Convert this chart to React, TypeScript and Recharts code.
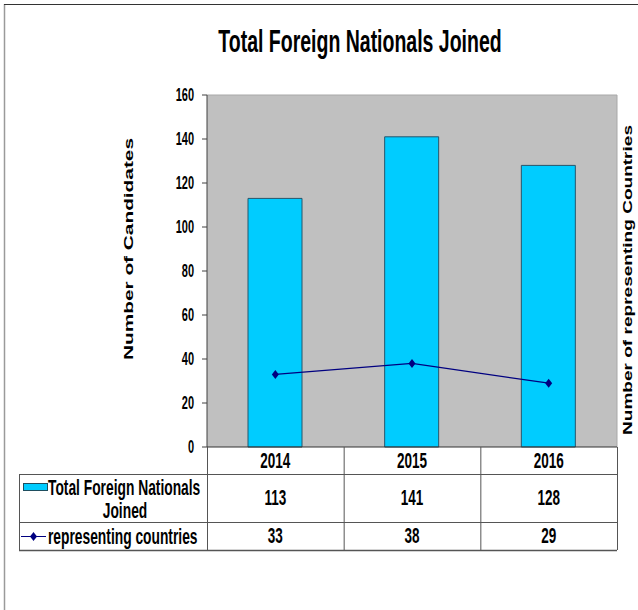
import { ComposedChart, Bar, Line, XAxis, YAxis, CartesianGrid, ReferenceLine } from 'recharts'

// chart values
const years = ['2014', '2015', '2016']
const nationalsJoined = [113, 141, 128]
const representingCountries = [33, 38, 29]
const yTicks = [0, 20, 40, 60, 80, 100, 120, 140, 160]

const seriesNames = ['Total Foreign Nationals', 'Joined']
const lineName = 'representing countries'

const data = years.map((year, i) => ({
  year,
  joined: nationalsJoined[i],
  countries: representingCountries[i],
}))

const W = 638
const H = 610
const PLOT_L = 207
const PLOT_R = 617
const PLOT_T = 95
const PLOT_B = 447
const TABLE_L = 19
const ROW_Y = [447, 474, 522, 550]
const STRETCH = 1.6

const ARIAL = "'Liberation Sans', Arial, sans-serif"
const CYAN = '#00CCFF'
const NAVY = '#000080'
const GRID = '#555555'

function Stretched({ x, y, anchor = 'middle', size, children }: any) {
  return (
    <text
      x={0}
      y={0}
      transform={`translate(${x},${y}) scale(1,${STRETCH})`}
      textAnchor={anchor}
      dominantBaseline="central"
      fontFamily={ARIAL}
      fontWeight="bold"
      fontSize={size}
      fill="#000"
    >
      {children}
    </text>
  )
}

function YTick({ x, y, payload }: any) {
  return <Stretched x={x} y={y} anchor="end" size={11}>{payload.value}</Stretched>
}

function Diamond({ cx, cy }: any) {
  if (cx == null || cy == null) return null
  return (
    <polygon
      points={`${cx},${cy - 4.5} ${cx + 3.5},${cy} ${cx},${cy + 4.5} ${cx - 3.5},${cy}`}
      fill={NAVY}
    />
  )
}

function AxisTitle({ text, cx, cy, size, len }: any) {
  return (
    <text
      x={cx}
      y={cy}
      transform={`rotate(-90 ${cx} ${cy})`}
      textAnchor="middle"
      dominantBaseline="central"
      textLength={len}
      lengthAdjust="spacingAndGlyphs"
      fontFamily={ARIAL}
      fontWeight="bold"
      fontSize={size}
      fill="#000"
    >
      {text}
    </text>
  )
}

function Overlay() {
  const colW = (PLOT_R - PLOT_L) / years.length
  const colX = years.map((_, i) => PLOT_L + i * colW)
  const midRow = (r: number) => (ROW_Y[r] + ROW_Y[r + 1]) / 2
  return (
    <svg width={W} height={H} style={{ position: 'absolute', left: 0, top: 0, pointerEvents: 'none' }}>
      {/* outer chart frame */}
      <line x1={4.5} x2={4.5} y1={4} y2={H} stroke="#9a9a9a" strokeWidth={1.5} />
      <line x1={4} x2={W} y1={4.5} y2={4.5} stroke="#333" />

      {/* title */}
      <Stretched x={360} y={41} size={19.5}>Total Foreign Nationals Joined</Stretched>

      {/* right axis title */}
      <AxisTitle text="Number of representing Countries" cx={628} cy={280} size={12} len={310} />

      {/* data table grid */}
      <line x1={PLOT_L} x2={PLOT_R} y1={ROW_Y[0]} y2={ROW_Y[0]} stroke="#333" />
      {ROW_Y.slice(1).map((y, i) => (
        <line key={y} x1={TABLE_L} x2={PLOT_R} y1={y + 0.5} y2={y + 0.5} stroke={GRID} strokeWidth={i === 2 ? 1.5 : 1} />
      ))}
      <line x1={TABLE_L + 0.5} x2={TABLE_L + 0.5} y1={ROW_Y[1]} y2={ROW_Y[3]} stroke={GRID} />
      {[...colX, PLOT_R].map(x => (
        <line key={x} x1={x + 0.5} x2={x + 0.5} y1={ROW_Y[0]} y2={ROW_Y[3]} stroke={GRID} />
      ))}

      {/* header + values */}
      {years.map((yr, i) => (
        <g key={yr}>
          <Stretched x={colX[i] + colW / 2} y={midRow(0) + 0.5} size={13.5}>{yr}</Stretched>
          <Stretched x={colX[i] + colW / 2} y={midRow(1)} size={13.5}>{nationalsJoined[i]}</Stretched>
          <Stretched x={colX[i] + colW / 2} y={midRow(2)} size={13.5}>{representingCountries[i]}</Stretched>
        </g>
      ))}

      {/* row legends */}
      <rect x={23.5} y={483.5} width={24} height={7} fill={CYAN} stroke="#1f4e5f" />
      <Stretched x={48} y={487} anchor="start" size={13.8}>{seriesNames[0]}</Stretched>
      <Stretched x={125} y={510} size={13.8}>{seriesNames[1]}</Stretched>

      <line x1={21} x2={46} y1={536.5} y2={536.5} stroke={NAVY} />
      <Diamond cx={33.5} cy={536.5} />
      <Stretched x={48} y={536} anchor="start" size={13.8}>{lineName}</Stretched>
    </svg>
  )
}

export default function App() {
  return (
    <div
      style={{
        position: 'absolute',
        left: 0,
        top: 0,
        width: W,
        height: H,
        overflow: 'hidden',
        background: '#fff',
      }}
    >
      <div style={{ position: 'absolute', left: 0, top: 0 }}>
        <ComposedChart
          width={W}
          height={H}
          data={data}
          margin={{ top: PLOT_T, right: 0, bottom: H - PLOT_B, left: 0 }}
        >
          <CartesianGrid yAxisId="left" horizontal={false} vertical={false} fill="#C0C0C0" />
          <XAxis dataKey="year" hide />
          <YAxis
            yAxisId="left"
            width={PLOT_L}
            domain={[0, 160]}
            ticks={yTicks}
            interval={0}
            tickSize={5}
            tickMargin={8}
            tick={<YTick />}
            axisLine={{ stroke: '#404040' }}
            tickLine={{ stroke: '#404040' }}
            label={<AxisTitle text="Number of Candidates" cx={128} cy={249} size={13.5} len={222} />}
          />
          <YAxis
            yAxisId="right"
            orientation="right"
            width={W - PLOT_R}
            domain={[0, 160]}
            ticks={yTicks}
            tick={false}
            tickLine={false}
            axisLine={{ stroke: '#a8a8a8' }}
          />
          <ReferenceLine yAxisId="left" y={160} stroke="#a8a8a8" />
          <Bar
            yAxisId="left"
            dataKey="joined"
            barSize={54}
            fill={CYAN}
            stroke="#27566b"
            strokeWidth={1}
            isAnimationActive={false}
          />
          <Line
            yAxisId="right"
            type="linear"
            dataKey="countries"
            stroke={NAVY}
            strokeWidth={1.2}
            dot={<Diamond />}
            activeDot={false}
            isAnimationActive={false}
          />
        </ComposedChart>
      </div>
      <Overlay />
    </div>
  )
}
